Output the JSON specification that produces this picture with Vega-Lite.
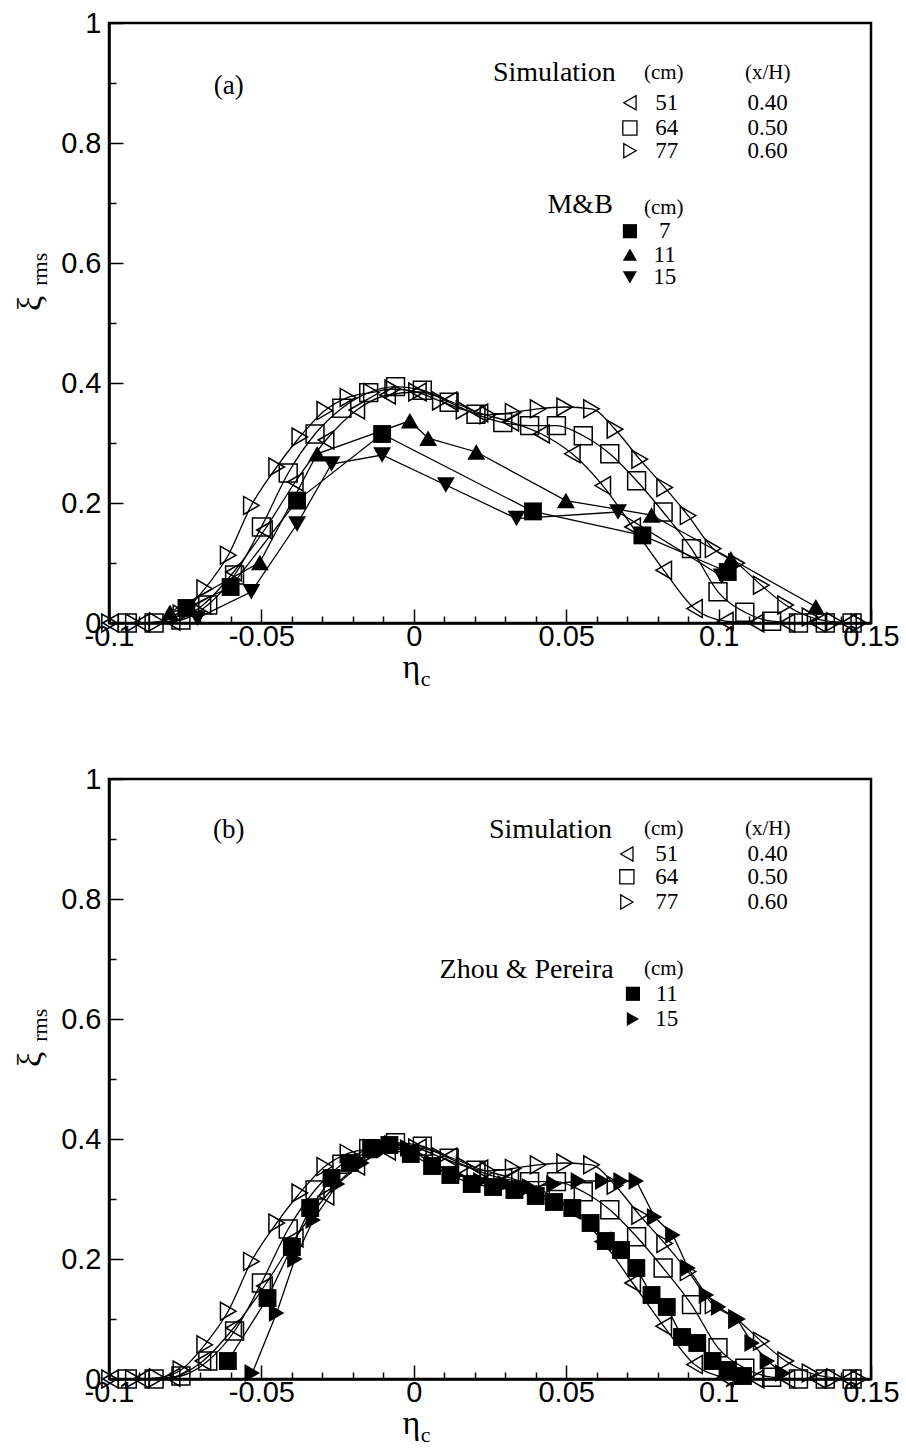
{
  "$schema": "https://vega.github.io/schema/vega-lite/v6.json",
  "background": "white",
  "padding": {"left": 11, "top": 7, "right": 5, "bottom": 2},
  "config": {
    "view": {"stroke": "black", "strokeWidth": 2.5},
    "axis": {"grid": false, "domainColor": "black", "domainWidth": 2.5, "tickColor": "black", "tickWidth": 1.5, "labelColor": "black", "labelFont": "Liberation Sans", "labelFontSize": 29, "labelOverlap": false, "labelFlush": false, "titleColor": "black", "titleFont": "Liberation Serif", "titleFontWeight": "normal", "titleFontSize": 34}
  },
  "datasets": {
    "sim": [
      {"series": "51", "x": -0.0995, "y": 0}, {"series": "51", "x": -0.0894, "y": 0}, {"series": "51", "x": -0.0793, "y": 0.003}, {"series": "51", "x": -0.0692, "y": 0.03}, {"series": "51", "x": -0.0591, "y": 0.085}, {"series": "51", "x": -0.049, "y": 0.155}, {"series": "51", "x": -0.0389, "y": 0.235}, {"series": "51", "x": -0.0288, "y": 0.305}, {"series": "51", "x": -0.0187, "y": 0.355}, {"series": "51", "x": -0.0086, "y": 0.38}, {"series": "51", "x": 0.0015, "y": 0.385}, {"series": "51", "x": 0.0116, "y": 0.37}, {"series": "51", "x": 0.0217, "y": 0.35}, {"series": "51", "x": 0.0318, "y": 0.335}, {"series": "51", "x": 0.0419, "y": 0.315}, {"series": "51", "x": 0.052, "y": 0.282}, {"series": "51", "x": 0.062, "y": 0.229}, {"series": "51", "x": 0.0718, "y": 0.16}, {"series": "51", "x": 0.082, "y": 0.088}, {"series": "51", "x": 0.0921, "y": 0.024}, {"series": "51", "x": 0.1022, "y": 0.003}, {"series": "51", "x": 0.1123, "y": 0}, {"series": "51", "x": 0.1224, "y": 0}, {"series": "51", "x": 0.1325, "y": 0}, {"series": "51", "x": 0.1426, "y": 0},
      {"series": "64", "x": -0.094, "y": 0}, {"series": "64", "x": -0.0852, "y": 0}, {"series": "64", "x": -0.0764, "y": 0.005}, {"series": "64", "x": -0.0676, "y": 0.03}, {"series": "64", "x": -0.0588, "y": 0.08}, {"series": "64", "x": -0.05, "y": 0.16}, {"series": "64", "x": -0.0412, "y": 0.25}, {"series": "64", "x": -0.0324, "y": 0.315}, {"series": "64", "x": -0.0236, "y": 0.358}, {"series": "64", "x": -0.0148, "y": 0.384}, {"series": "64", "x": -0.006, "y": 0.394}, {"series": "64", "x": 0.0028, "y": 0.388}, {"series": "64", "x": 0.0116, "y": 0.368}, {"series": "64", "x": 0.0204, "y": 0.348}, {"series": "64", "x": 0.0292, "y": 0.334}, {"series": "64", "x": 0.038, "y": 0.329}, {"series": "64", "x": 0.0468, "y": 0.329}, {"series": "64", "x": 0.0556, "y": 0.312}, {"series": "64", "x": 0.0643, "y": 0.282}, {"series": "64", "x": 0.0731, "y": 0.237}, {"series": "64", "x": 0.0818, "y": 0.185}, {"series": "64", "x": 0.0911, "y": 0.124}, {"series": "64", "x": 0.0998, "y": 0.052}, {"series": "64", "x": 0.1086, "y": 0.018}, {"series": "64", "x": 0.1174, "y": 0.003}, {"series": "64", "x": 0.1262, "y": 0}, {"series": "64", "x": 0.135, "y": 0}, {"series": "64", "x": 0.1438, "y": 0},
      {"series": "77", "x": -0.0998, "y": 0}, {"series": "77", "x": -0.092, "y": 0}, {"series": "77", "x": -0.0842, "y": 0.002}, {"series": "77", "x": -0.0764, "y": 0.015}, {"series": "77", "x": -0.0686, "y": 0.057}, {"series": "77", "x": -0.0609, "y": 0.113}, {"series": "77", "x": -0.0533, "y": 0.196}, {"series": "77", "x": -0.045, "y": 0.26}, {"series": "77", "x": -0.0374, "y": 0.31}, {"series": "77", "x": -0.0292, "y": 0.354}, {"series": "77", "x": -0.0216, "y": 0.376}, {"series": "77", "x": -0.0139, "y": 0.384}, {"series": "77", "x": -0.0069, "y": 0.39}, {"series": "77", "x": 0.0009, "y": 0.385}, {"series": "77", "x": 0.0087, "y": 0.37}, {"series": "77", "x": 0.0165, "y": 0.355}, {"series": "77", "x": 0.0243, "y": 0.347}, {"series": "77", "x": 0.0326, "y": 0.351}, {"series": "77", "x": 0.0408, "y": 0.357}, {"series": "77", "x": 0.0495, "y": 0.36}, {"series": "77", "x": 0.0583, "y": 0.357}, {"series": "77", "x": 0.066, "y": 0.323}, {"series": "77", "x": 0.0741, "y": 0.273}, {"series": "77", "x": 0.0823, "y": 0.226}, {"series": "77", "x": 0.09, "y": 0.179}, {"series": "77", "x": 0.0982, "y": 0.124}, {"series": "77", "x": 0.1059, "y": 0.1}, {"series": "77", "x": 0.114, "y": 0.063}, {"series": "77", "x": 0.122, "y": 0.03}, {"series": "77", "x": 0.13, "y": 0.01}, {"series": "77", "x": 0.138, "y": 0.002}, {"series": "77", "x": 0.146, "y": 0}
    ],
    "mb": [
      {"series": "MB7", "x": -0.0746, "y": 0.025}, {"series": "MB7", "x": -0.0601, "y": 0.06}, {"series": "MB7", "x": -0.0383, "y": 0.204}, {"series": "MB7", "x": -0.0104, "y": 0.315}, {"series": "MB7", "x": 0.0391, "y": 0.186}, {"series": "MB7", "x": 0.075, "y": 0.146}, {"series": "MB7", "x": 0.103, "y": 0.085},
      {"series": "MB11", "x": -0.08, "y": 0.018}, {"series": "MB11", "x": -0.0505, "y": 0.101}, {"series": "MB11", "x": -0.0317, "y": 0.282}, {"series": "MB11", "x": -0.0013, "y": 0.337}, {"series": "MB11", "x": 0.0047, "y": 0.308}, {"series": "MB11", "x": 0.0205, "y": 0.285}, {"series": "MB11", "x": 0.0499, "y": 0.204}, {"series": "MB11", "x": 0.078, "y": 0.18}, {"series": "MB11", "x": 0.104, "y": 0.107}, {"series": "MB11", "x": 0.1319, "y": 0.027},
      {"series": "MB15", "x": -0.071, "y": 0.008}, {"series": "MB15", "x": -0.0533, "y": 0.052}, {"series": "MB15", "x": -0.0383, "y": 0.165}, {"series": "MB15", "x": -0.027, "y": 0.265}, {"series": "MB15", "x": -0.0104, "y": 0.28}, {"series": "MB15", "x": 0.0105, "y": 0.23}, {"series": "MB15", "x": 0.0337, "y": 0.174}, {"series": "MB15", "x": 0.067, "y": 0.185}, {"series": "MB15", "x": 0.101, "y": 0.078}
    ],
    "zp": [
      {"series": "ZP11", "x": -0.061, "y": 0.03}, {"series": "ZP11", "x": -0.048, "y": 0.135}, {"series": "ZP11", "x": -0.04, "y": 0.22}, {"series": "ZP11", "x": -0.034, "y": 0.285}, {"series": "ZP11", "x": -0.027, "y": 0.335}, {"series": "ZP11", "x": -0.021, "y": 0.36}, {"series": "ZP11", "x": -0.014, "y": 0.385}, {"series": "ZP11", "x": -0.008, "y": 0.39}, {"series": "ZP11", "x": -0.001, "y": 0.375}, {"series": "ZP11", "x": 0.006, "y": 0.355}, {"series": "ZP11", "x": 0.012, "y": 0.34}, {"series": "ZP11", "x": 0.019, "y": 0.325}, {"series": "ZP11", "x": 0.026, "y": 0.32}, {"series": "ZP11", "x": 0.033, "y": 0.315}, {"series": "ZP11", "x": 0.04, "y": 0.305}, {"series": "ZP11", "x": 0.046, "y": 0.295}, {"series": "ZP11", "x": 0.052, "y": 0.285}, {"series": "ZP11", "x": 0.058, "y": 0.26}, {"series": "ZP11", "x": 0.063, "y": 0.23}, {"series": "ZP11", "x": 0.068, "y": 0.215}, {"series": "ZP11", "x": 0.073, "y": 0.185}, {"series": "ZP11", "x": 0.078, "y": 0.14}, {"series": "ZP11", "x": 0.083, "y": 0.12}, {"series": "ZP11", "x": 0.088, "y": 0.07}, {"series": "ZP11", "x": 0.093, "y": 0.06}, {"series": "ZP11", "x": 0.098, "y": 0.03}, {"series": "ZP11", "x": 0.103, "y": 0.015}, {"series": "ZP11", "x": 0.108, "y": 0.005},
      {"series": "ZP15", "x": -0.053, "y": 0.01}, {"series": "ZP15", "x": -0.045, "y": 0.11}, {"series": "ZP15", "x": -0.039, "y": 0.2}, {"series": "ZP15", "x": -0.033, "y": 0.265}, {"series": "ZP15", "x": -0.025, "y": 0.325}, {"series": "ZP15", "x": -0.017, "y": 0.36}, {"series": "ZP15", "x": -0.009, "y": 0.385}, {"series": "ZP15", "x": -0.002, "y": 0.385}, {"series": "ZP15", "x": 0.006, "y": 0.36}, {"series": "ZP15", "x": 0.014, "y": 0.34}, {"series": "ZP15", "x": 0.022, "y": 0.33}, {"series": "ZP15", "x": 0.03, "y": 0.325}, {"series": "ZP15", "x": 0.038, "y": 0.32}, {"series": "ZP15", "x": 0.046, "y": 0.325}, {"series": "ZP15", "x": 0.054, "y": 0.33}, {"series": "ZP15", "x": 0.062, "y": 0.33}, {"series": "ZP15", "x": 0.068, "y": 0.33}, {"series": "ZP15", "x": 0.073, "y": 0.33}, {"series": "ZP15", "x": 0.079, "y": 0.27}, {"series": "ZP15", "x": 0.085, "y": 0.24}, {"series": "ZP15", "x": 0.09, "y": 0.185}, {"series": "ZP15", "x": 0.096, "y": 0.14}, {"series": "ZP15", "x": 0.1, "y": 0.12}, {"series": "ZP15", "x": 0.106, "y": 0.1}, {"series": "ZP15", "x": 0.111, "y": 0.06}, {"series": "ZP15", "x": 0.116, "y": 0.03}, {"series": "ZP15", "x": 0.121, "y": 0.01}
    ],
    "annA": [
      {"x": -0.0607, "y": 0.895, "label": "(a)", "role": "mark"},
      {"x": 0.0663, "y": 0.917, "label": "Simulation", "role": "head"},
      {"x": 0.082, "y": 0.917, "label": "(cm)", "role": "unit"},
      {"x": 0.1161, "y": 0.917, "label": "(x/H)", "role": "unit"},
      {"x": 0.083, "y": 0.867, "label": "51", "role": "num"},
      {"x": 0.083, "y": 0.825, "label": "64", "role": "num"},
      {"x": 0.083, "y": 0.787, "label": "77", "role": "num"},
      {"x": 0.1161, "y": 0.867, "label": "0.40", "role": "num"},
      {"x": 0.1161, "y": 0.825, "label": "0.50", "role": "num"},
      {"x": 0.1161, "y": 0.787, "label": "0.60", "role": "num"},
      {"x": 0.0653, "y": 0.696, "label": "M&B", "role": "head"},
      {"x": 0.082, "y": 0.692, "label": "(cm)", "role": "unit"},
      {"x": 0.0823, "y": 0.653, "label": "7", "role": "num"},
      {"x": 0.0823, "y": 0.614, "label": "11", "role": "num"},
      {"x": 0.0823, "y": 0.576, "label": "15", "role": "num"}
    ],
    "legA": [
      {"x": 0.0709, "y": 0.867, "series": "51", "fill": "open"},
      {"x": 0.0709, "y": 0.825, "series": "64", "fill": "open"},
      {"x": 0.0709, "y": 0.787, "series": "77", "fill": "open"},
      {"x": 0.0709, "y": 0.653, "series": "MB7", "fill": "solid"},
      {"x": 0.0709, "y": 0.614, "series": "MB11", "fill": "solid"},
      {"x": 0.0709, "y": 0.576, "series": "MB15", "fill": "solid"}
    ],
    "annB": [
      {"x": -0.0607, "y": 0.915, "label": "(b)", "role": "mark"},
      {"x": 0.065, "y": 0.915, "label": "Simulation", "role": "head"},
      {"x": 0.082, "y": 0.917, "label": "(cm)", "role": "unit"},
      {"x": 0.1161, "y": 0.917, "label": "(x/H)", "role": "unit"},
      {"x": 0.083, "y": 0.875, "label": "51", "role": "num"},
      {"x": 0.083, "y": 0.837, "label": "64", "role": "num"},
      {"x": 0.083, "y": 0.795, "label": "77", "role": "num"},
      {"x": 0.1161, "y": 0.875, "label": "0.40", "role": "num"},
      {"x": 0.1161, "y": 0.837, "label": "0.50", "role": "num"},
      {"x": 0.1161, "y": 0.795, "label": "0.60", "role": "num"},
      {"x": 0.0656, "y": 0.682, "label": "Zhou & Pereira", "role": "head"},
      {"x": 0.082, "y": 0.684, "label": "(cm)", "role": "unit"},
      {"x": 0.083, "y": 0.642, "label": "11", "role": "num"},
      {"x": 0.083, "y": 0.6, "label": "15", "role": "num"}
    ],
    "legB": [
      {"x": 0.0699, "y": 0.875, "series": "51", "fill": "open"},
      {"x": 0.0699, "y": 0.837, "series": "64", "fill": "open"},
      {"x": 0.0699, "y": 0.795, "series": "77", "fill": "open"},
      {"x": 0.0719, "y": 0.642, "series": "ZP11", "fill": "solid"},
      {"x": 0.0719, "y": 0.6, "series": "ZP15", "fill": "solid"}
    ],
    "subs": [
      {"x": 0.0023, "y": -0.105, "label": "c", "role": "xsub"},
      {"x": -0.1226, "y": 0.562, "label": "rms", "role": "ysub"}
    ]
  },
  "spacing": 71,
  "vconcat": [
    {
      "width": 762, "height": 600,
      "encoding": {
        "x": {"field": "x", "type": "quantitative", "scale": {"domain": [-0.1, 0.15], "nice": false, "zero": false},
          "axis": {"values": [-0.1, -0.09, -0.08, -0.07, -0.06, -0.05, -0.04, -0.03, -0.02, -0.01, 0, 0.01, 0.02, 0.03, 0.04, 0.05, 0.06, 0.07, 0.08, 0.09, 0.1, 0.11, 0.12, 0.13, 0.14, 0.15],
            "tickSize": {"condition": {"test": "abs(datum.value*20 - round(datum.value*20)) < 0.001", "value": -14}, "value": -7},
            "labelExpr": "abs(datum.value*20 - round(datum.value*20)) < 0.001 ? '' + datum.value : ''",
            "labelPadding": 13, "title": "η", "titleX": 302, "titleY": 54, "titleBaseline": "alphabetic", "titleAlign": "center"}},
        "y": {"field": "y", "type": "quantitative", "scale": {"domain": [0, 1], "nice": false},
          "axis": {"values": [0, 0.1, 0.2, 0.3, 0.4, 0.5, 0.6, 0.7, 0.8, 0.9, 1],
            "tickSize": {"condition": {"test": "abs(datum.value*5 - round(datum.value*5)) < 0.001", "value": -14}, "value": -7},
            "labelExpr": "abs(datum.value*5 - round(datum.value*5)) < 0.001 ? '' + datum.value : ''",
            "labelPadding": 22, "title": "ξ", "titleX": -79, "titleY": 280, "titleBaseline": "middle", "titleAlign": "center"}}
      },
      "layer": [
        {"data": {"name": "sim"}, "mark": {"type": "line", "interpolate": "monotone", "color": "black", "strokeWidth": 1.3}, "encoding": {"detail": {"field": "series"}}},
        {"data": {"name": "sim"}, "mark": {"type": "point", "filled": false, "color": "black", "strokeWidth": 1.5, "size": 320, "opacity": 1},
          "encoding": {"shape": {"field": "series", "type": "nominal", "scale": {"domain": ["51", "64", "77", "MB7", "MB11", "MB15", "ZP11", "ZP15"], "range": ["triangle-left", "square", "triangle-right", "square", "triangle-up", "triangle-down", "square", "triangle-right"]}, "legend": null}}},
        {"data": {"name": "mb"}, "mark": {"type": "line", "color": "black", "strokeWidth": 1.3}, "encoding": {"detail": {"field": "series"}}},
        {"data": {"name": "mb"}, "mark": {"type": "point", "filled": true, "color": "black", "size": 320, "opacity": 1},
          "encoding": {"shape": {"field": "series", "type": "nominal", "legend": null}}},
        {"data": {"name": "legA"}, "transform": [{"filter": "datum.fill == 'open'"}], "mark": {"type": "point", "filled": false, "color": "black", "strokeWidth": 1.3, "size": 200, "opacity": 1},
          "encoding": {"shape": {"field": "series", "type": "nominal", "legend": null}}},
        {"data": {"name": "legA"}, "transform": [{"filter": "datum.fill == 'solid'"}], "mark": {"type": "point", "filled": true, "color": "black", "size": 200, "opacity": 1},
          "encoding": {"shape": {"field": "series", "type": "nominal", "legend": null}}},
        {"data": {"name": "annA"}, "transform": [{"filter": "datum.role == 'head'"}], "mark": {"type": "text", "font": "Liberation Serif", "fontSize": 28, "align": "right", "baseline": "middle", "color": "black"}, "encoding": {"text": {"field": "label"}}},
        {"data": {"name": "annA"}, "transform": [{"filter": "datum.role == 'mark'"}], "mark": {"type": "text", "font": "Liberation Serif", "fontSize": 27, "align": "center", "baseline": "middle", "color": "black"}, "encoding": {"text": {"field": "label"}}},
        {"data": {"name": "annA"}, "transform": [{"filter": "datum.role == 'unit'"}], "mark": {"type": "text", "font": "Liberation Serif", "fontSize": 21, "align": "center", "baseline": "middle", "color": "black"}, "encoding": {"text": {"field": "label"}}},
        {"data": {"name": "annA"}, "transform": [{"filter": "datum.role == 'num'"}], "mark": {"type": "text", "font": "Liberation Serif", "fontSize": 23, "align": "center", "baseline": "middle", "color": "black"}, "encoding": {"text": {"field": "label"}}},
        {"data": {"name": "subs"}, "transform": [{"filter": "datum.role == 'xsub'"}], "mark": {"type": "text", "font": "Liberation Serif", "fontSize": 22, "align": "left", "baseline": "alphabetic", "color": "black"}, "encoding": {"text": {"field": "label"}}},
        {"data": {"name": "subs"}, "transform": [{"filter": "datum.role == 'ysub'"}], "mark": {"type": "text", "font": "Liberation Serif", "fontSize": 22, "align": "left", "baseline": "middle", "angle": 270, "color": "black"}, "encoding": {"text": {"field": "label"}}}
      ]
    },
    {
      "width": 762, "height": 600,
      "encoding": {
        "x": {"field": "x", "type": "quantitative", "scale": {"domain": [-0.1, 0.15], "nice": false, "zero": false},
          "axis": {"values": [-0.1, -0.09, -0.08, -0.07, -0.06, -0.05, -0.04, -0.03, -0.02, -0.01, 0, 0.01, 0.02, 0.03, 0.04, 0.05, 0.06, 0.07, 0.08, 0.09, 0.1, 0.11, 0.12, 0.13, 0.14, 0.15],
            "tickSize": {"condition": {"test": "abs(datum.value*20 - round(datum.value*20)) < 0.001", "value": -14}, "value": -7},
            "labelExpr": "abs(datum.value*20 - round(datum.value*20)) < 0.001 ? '' + datum.value : ''",
            "labelPadding": 13, "title": "η", "titleX": 302, "titleY": 54, "titleBaseline": "alphabetic", "titleAlign": "center"}},
        "y": {"field": "y", "type": "quantitative", "scale": {"domain": [0, 1], "nice": false},
          "axis": {"values": [0, 0.1, 0.2, 0.3, 0.4, 0.5, 0.6, 0.7, 0.8, 0.9, 1],
            "tickSize": {"condition": {"test": "abs(datum.value*5 - round(datum.value*5)) < 0.001", "value": -14}, "value": -7},
            "labelExpr": "abs(datum.value*5 - round(datum.value*5)) < 0.001 ? '' + datum.value : ''",
            "labelPadding": 22, "title": "ξ", "titleX": -79, "titleY": 280, "titleBaseline": "middle", "titleAlign": "center"}}
      },
      "layer": [
        {"data": {"name": "sim"}, "mark": {"type": "line", "interpolate": "monotone", "color": "black", "strokeWidth": 1.3}, "encoding": {"detail": {"field": "series"}}},
        {"data": {"name": "sim"}, "mark": {"type": "point", "filled": false, "color": "black", "strokeWidth": 1.5, "size": 320, "opacity": 1},
          "encoding": {"shape": {"field": "series", "type": "nominal", "scale": {"domain": ["51", "64", "77", "MB7", "MB11", "MB15", "ZP11", "ZP15"], "range": ["triangle-left", "square", "triangle-right", "square", "triangle-up", "triangle-down", "square", "triangle-right"]}, "legend": null}}},
        {"data": {"name": "zp"}, "mark": {"type": "line", "color": "black", "strokeWidth": 1.3}, "encoding": {"detail": {"field": "series"}}},
        {"data": {"name": "zp"}, "mark": {"type": "point", "filled": true, "color": "black", "size": 320, "opacity": 1},
          "encoding": {"shape": {"field": "series", "type": "nominal", "legend": null}}},
        {"data": {"name": "legB"}, "transform": [{"filter": "datum.fill == 'open'"}], "mark": {"type": "point", "filled": false, "color": "black", "strokeWidth": 1.3, "size": 200, "opacity": 1},
          "encoding": {"shape": {"field": "series", "type": "nominal", "legend": null}}},
        {"data": {"name": "legB"}, "transform": [{"filter": "datum.fill == 'solid'"}], "mark": {"type": "point", "filled": true, "color": "black", "size": 200, "opacity": 1},
          "encoding": {"shape": {"field": "series", "type": "nominal", "legend": null}}},
        {"data": {"name": "annB"}, "transform": [{"filter": "datum.role == 'head'"}], "mark": {"type": "text", "font": "Liberation Serif", "fontSize": 28, "align": "right", "baseline": "middle", "color": "black"}, "encoding": {"text": {"field": "label"}}},
        {"data": {"name": "annB"}, "transform": [{"filter": "datum.role == 'mark'"}], "mark": {"type": "text", "font": "Liberation Serif", "fontSize": 27, "align": "center", "baseline": "middle", "color": "black"}, "encoding": {"text": {"field": "label"}}},
        {"data": {"name": "annB"}, "transform": [{"filter": "datum.role == 'unit'"}], "mark": {"type": "text", "font": "Liberation Serif", "fontSize": 21, "align": "center", "baseline": "middle", "color": "black"}, "encoding": {"text": {"field": "label"}}},
        {"data": {"name": "annB"}, "transform": [{"filter": "datum.role == 'num'"}], "mark": {"type": "text", "font": "Liberation Serif", "fontSize": 23, "align": "center", "baseline": "middle", "color": "black"}, "encoding": {"text": {"field": "label"}}},
        {"data": {"name": "subs"}, "transform": [{"filter": "datum.role == 'xsub'"}], "mark": {"type": "text", "font": "Liberation Serif", "fontSize": 22, "align": "left", "baseline": "alphabetic", "color": "black"}, "encoding": {"text": {"field": "label"}}},
        {"data": {"name": "subs"}, "transform": [{"filter": "datum.role == 'ysub'"}], "mark": {"type": "text", "font": "Liberation Serif", "fontSize": 22, "align": "left", "baseline": "middle", "angle": 270, "color": "black"}, "encoding": {"text": {"field": "label"}}}
      ]
    }
  ]
}
